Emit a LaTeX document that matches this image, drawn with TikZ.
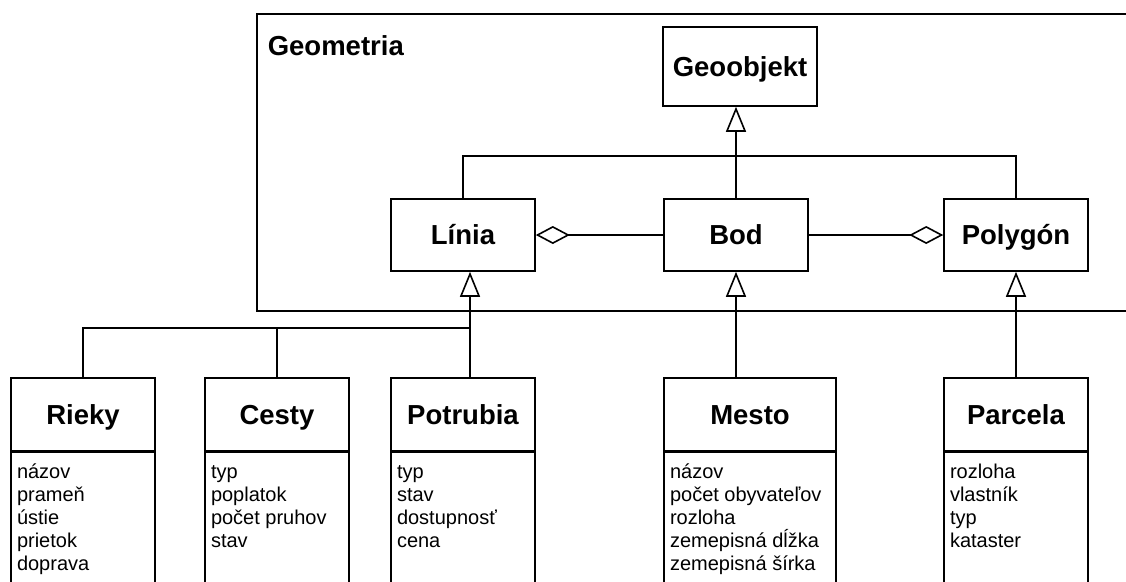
\documentclass[tikz,border=0pt]{standalone}
\usepackage{fontspec}
\setmainfont{Liberation Sans}
\usetikzlibrary{arrows.meta,calc}
\newcommand\attrlines[1]{\vtop{\halign{##\hfil\cr #1\crcr}}}
\begin{document}
\begin{tikzpicture}[x=1pt,y=-1pt,line width=1.6pt,
  cls/.style={draw, inner sep=0pt, minimum width=144pt, minimum height=72pt,
    text height=19.7pt, text depth=0pt,
    font=\fontsize{27.5}{30}\selectfont\bfseries},
  attrbox/.style={draw, inner sep=0pt, minimum width=144pt, minimum height=160pt, anchor=north},
  attr/.style={inner sep=0pt, anchor=base west, font=\fontsize{20}{23}\selectfont},
  gen/.style={-{Triangle[open,length=25pt,width=20pt]}},
  aggr/.style={-{Diamond[open,length=34pt,width=18pt]}}]
\useasboundingbox (0,0) rectangle (1126,581);
\fill[white] (0,0) rectangle (1126,581);
\begin{scope}
\clip (0,0) rectangle (1126,581);
% package
\draw (257,14) rectangle (1140,311);
\node[anchor=west, inner sep=0pt, text height=19.7pt, text depth=0pt,
  font=\fontsize{27.5}{30}\selectfont\bfseries] (geometria) at (267,46) {Geometria};
% upper classes
\node[cls, minimum width=154pt, minimum height=79pt] (geoobjekt) at (740,66.5) {Geoobjekt};
\node[cls] (linia) at (463,235) {Línia};
\node[cls] (bod) at (736,235) {Bod};
\node[cls] (polygon) at (1016,235) {Polygón};
% lower classes: headers
\node[cls, minimum height=73pt] (rieky) at (83,414.5) {Rieky};
\node[cls, minimum height=73pt] (cesty) at (277,414.5) {Cesty};
\node[cls, minimum height=73pt] (potrubia) at (463,414.5) {Potrubia};
\node[cls, minimum height=73pt, minimum width=172pt] (mesto) at (750,414.5) {Mesto};
\node[cls, minimum height=73pt] (parcela) at (1016,414.5) {Parcela};
% attribute compartments
\node[attrbox] (rieky-a) at (rieky.south) {};
\node[attrbox] (cesty-a) at (cesty.south) {};
\node[attrbox] (potrubia-a) at (potrubia.south) {};
\node[attrbox, minimum width=172pt] (mesto-a) at (mesto.south) {};
\node[attrbox] (parcela-a) at (parcela.south) {};
\node[attr] (rieky-t) at ($(rieky-a.north west)+(6,27)$) {\attrlines{názov\cr prameň\cr ústie\cr prietok\cr doprava}};
\node[attr] (cesty-t) at ($(cesty-a.north west)+(6,27)$) {\attrlines{typ\cr poplatok\cr počet pruhov\cr stav}};
\node[attr] (potrubia-t) at ($(potrubia-a.north west)+(6,27)$) {\attrlines{typ\cr stav\cr dostupnosť\cr cena}};
\node[attr] (mesto-t) at ($(mesto-a.north west)+(6,27)$) {\attrlines{názov\cr počet obyvateľov\cr rozloha\cr zemepisná dĺžka\cr zemepisná šírka}};
\node[attr] (parcela-t) at ($(parcela-a.north west)+(6,27)$) {\attrlines{rozloha\cr vlastník\cr typ\cr kataster}};
% connectors
\coordinate (gj) at (736,156);
\draw (linia.north) |- (gj) -| (polygon.north);
\draw[gen] (bod.north) -- (bod.north |- geoobjekt.south);
\draw[aggr] (bod.west) -- (linia.east);
\draw[aggr] (bod.east) -- (polygon.west);
\coordinate (lj) at (470,328);
\draw (rieky.north) |- (lj);
\draw (cesty.north) -- (cesty.north |- lj);
\draw[gen] (potrubia.north -| lj) -- (linia.south -| lj);
\draw[gen] (mesto.north -| bod.south) -- (bod.south);
\draw[gen] (parcela.north) -- (polygon.south);
\end{scope}
\end{tikzpicture}
\end{document}
